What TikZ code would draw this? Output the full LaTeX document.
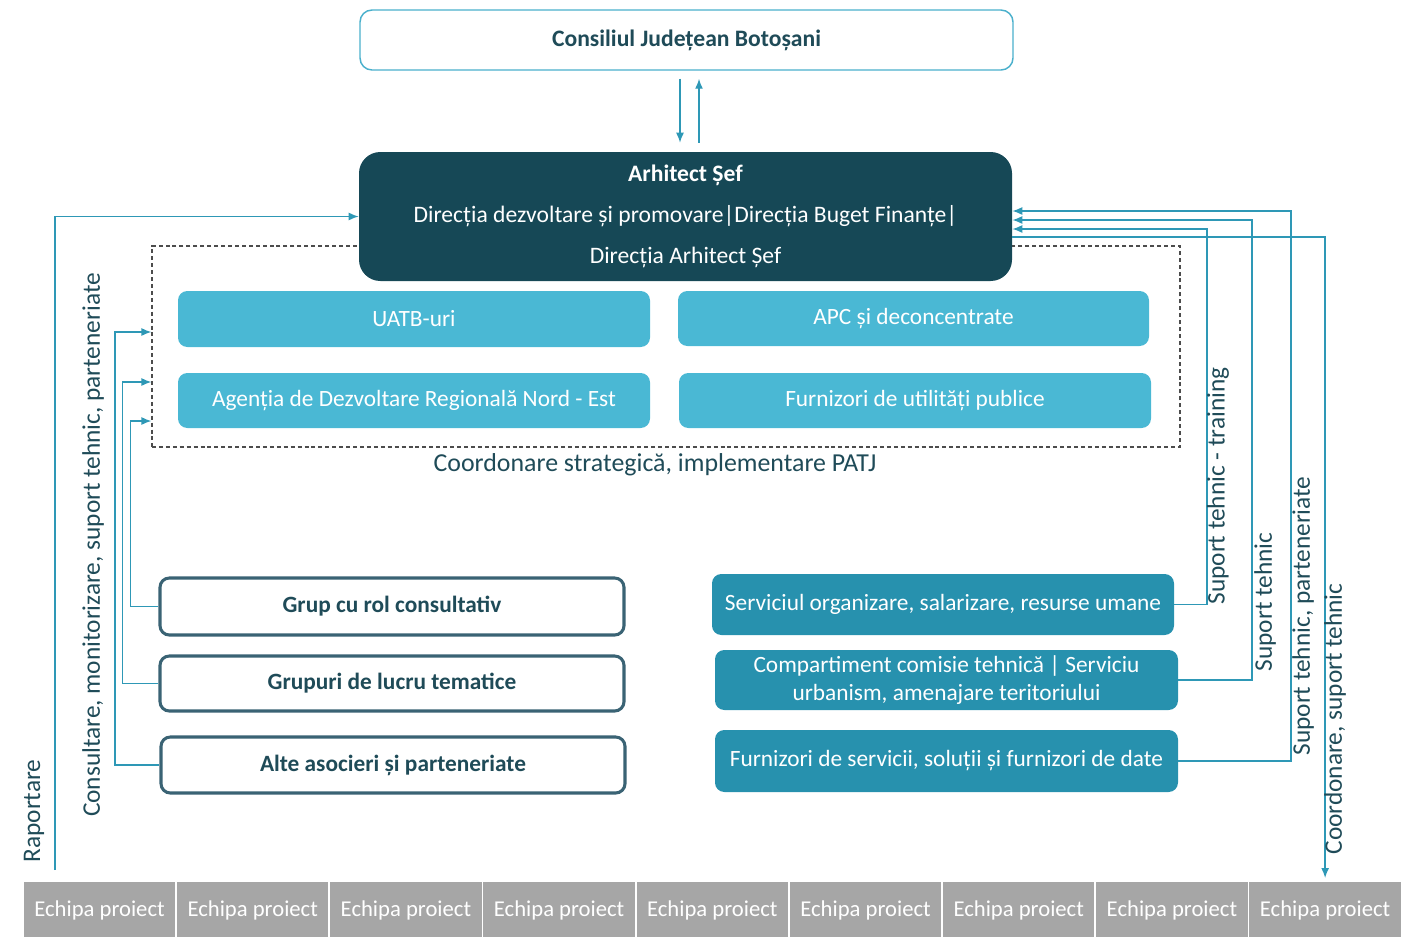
\documentclass[tikz,border=0pt]{standalone}
\usepackage{fontspec}
\setmainfont{Carlito}
\usetikzlibrary{arrows.meta,calc}
\definecolor{linec}{HTML}{2E98B6}
\definecolor{lightbox}{HTML}{4AB8D4}
\definecolor{midbox}{HTML}{2791AE}
\definecolor{darkbox}{HTML}{164856}
\definecolor{outl}{HTML}{3A6374}
\definecolor{txtc}{HTML}{1F4B58}
\definecolor{cellg}{HTML}{A6A6A6}
\definecolor{topb}{HTML}{4AB0CC}
\tikzset{
  sz/.style 2 args={minimum width=#1*0.75pt, minimum height=#2*0.75pt, inner sep=0pt},
  topbox/.style={draw=topb, line width=1.1pt, fill=white, rounded corners=9pt, text=txtc, font=\fontsize{17.7}{20}\selectfont\bfseries},
  archbox/.style={fill=darkbox, rounded corners=16pt, text=white, align=center, font=\fontsize{17.7}{30.75}\selectfont},
  lbox/.style={fill=lightbox, rounded corners=7pt, text=white, font=\fontsize{17.5}{20}\selectfont},
  mbox/.style={fill=midbox, rounded corners=7pt, text=white, align=center, font=\fontsize{17.5}{20.5}\selectfont},
  obox/.style={draw=outl, line width=2.3pt, fill=white, rounded corners=7pt, text=txtc, font=\fontsize{17.5}{20}\selectfont\bfseries},
  cell/.style={fill=cellg, draw=white, line width=1.4pt, text=white, font=\fontsize{17}{20}\selectfont},
  conn/.style={draw=linec, line width=1.1pt},
  tip/.style={-{Latex[length=7.5pt,width=6pt]}},
  lab/.style={text=txtc, font=\fontsize{19}{20}\selectfont, inner sep=0pt},
}
\begin{document}
\begin{tikzpicture}[x=0.75pt,y=-0.75pt]
\useasboundingbox (0,0) rectangle (1414,936);
% dashed group box
\node[draw=black!70, dash pattern=on 3pt off 2.2pt, line width=0.8pt, sz={1028}{201}] (dbox) at (666,346.5) {};
\node[lab, font=\fontsize{19.4}{20}\selectfont] (cap) at (655,465) {Coordonare strategică, implementare PATJ};
% top boxes
\node[topbox, sz={653}{60}] (cj) at (686.5,40) {Consiliul Județean Botoșani};
\node[archbox, sz={653}{129}] (arh) at (685.5,216.5) {\textbf{Arhitect Șef}\\Direcția dezvoltare și promovare|Direcția Buget Finanțe|\\Direcția Arhitect Șef};
% light boxes
\node[lbox, sz={472}{56}] (uatb) at (414,319) {UATB-uri};
\node[lbox, sz={471}{55}] (apc) at (913.5,318.5) {APC și deconcentrate};
\node[lbox, sz={472}{55}] (adr) at (414,400.5) {Agenția de Dezvoltare Regională Nord - Est};
\node[lbox, sz={472}{55}] (fup) at (915,400.5) {Furnizori de utilități publice};
% left outline boxes
\node[obox, sz={464}{57}] (grup) at (392,606.5) {Grup cu rol consultativ};
\node[obox, sz={464}{55}] (gl) at (392,683.5) {Grupuri de lucru tematice};
\node[obox, sz={464}{56}] (alte) at (393,765) {Alte asocieri și parteneriate};
% right boxes
\node[mbox, sz={462}{61}] (serv) at (943,604.5) {Serviciul organizare, salarizare, resurse umane};
\node[mbox, sz={463}{60}] (comp) at (946.5,680) {Compartiment comisie tehnică | Serviciu\\urbanism, amenajare teritoriului};
\node[mbox, sz={463}{62}] (furn) at (946.5,761) {Furnizori de servicii, soluții și furnizori de date};
% bottom cells
\foreach \i in {1,...,9}{
  \node[cell, sz={153.2}{60}, anchor=north west] (e\i) at ({22+(\i-1)*153.2},880) {Echipa proiect};
}
% connectors top
\draw[conn,tip] ($(cj.south -| 680,0)+(0,8)$) -- ($(arh.north -| 680,0)+(0,-9)$);
\draw[conn,tip] ($(arh.north -| 699,0)+(0,-9)$) -- ($(cj.south -| 699,0)+(0,8)$);
% left connectors
\coordinate (rstart) at (55,870);
\draw[conn,tip] (rstart) |- (arh.west);
\draw[conn,tip] (alte.west) -| (115,332) -- (dbox.west |- 0,332);
\draw[conn,tip] (gl.west) -| (122.5,382) -- (dbox.west |- 0,382);
\draw[conn,tip] (grup.west) -| (130.5,421) -- (dbox.west |- 0,421);
% right connectors
\draw[conn,tip] (serv.east) -| (1207,229) -- (arh.east |- 0,229);
\draw[conn,tip] (comp.east) -| (1252,220) -- (arh.east |- 0,220);
\draw[conn,tip] (furn.east) -| (1291,211) -- (arh.east |- 0,211);
\draw[conn,tip] (arh.east |- 0,237) -| ([yshift=1.5pt]e9.north);
% labels
\node[lab, rotate=90] (l1) at (34,811) {Raportare};
\node[lab, rotate=90] (l2) at (93,545) {Consultare, monitorizare, suport tehnic, parteneriate};
\node[lab, rotate=90] (l3) at (1218,486) {Suport tehnic - training};
\node[lab, rotate=90] (l4) at (1265,602) {Suport tehnic};
\node[lab, rotate=90] (l5) at (1303,616) {Suport tehnic, parteneriate};
\node[lab, rotate=90] (l6) at (1335,719) {Coordonare, suport tehnic};
\end{tikzpicture}
\end{document}
